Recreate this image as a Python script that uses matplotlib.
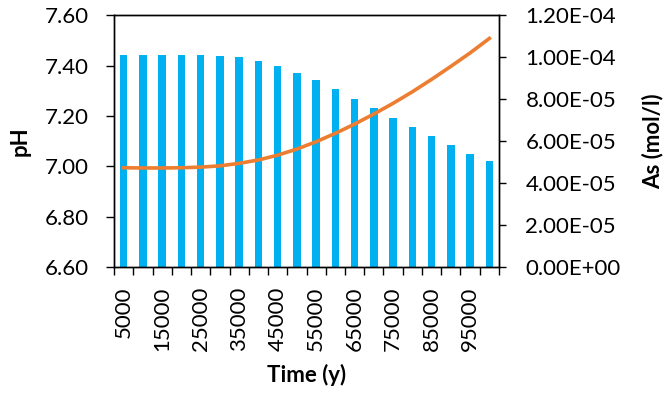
import numpy as np
import matplotlib.pyplot as plt
from matplotlib.ticker import FormatStrFormatter

plt.rcParams['font.family'] = ['Lato', 'DejaVu Sans']

# data
times = [5000 * (i + 1) for i in range(20)]
ph = [7.44, 7.44, 7.44, 7.44, 7.44, 7.438, 7.432, 7.419, 7.398, 7.371,
      7.341, 7.305, 7.268, 7.230, 7.191, 7.154, 7.119, 7.083, 7.050, 7.020]
arsenic = [4.73e-5, 4.72e-5, 4.72e-5, 4.73e-5, 4.76e-5, 4.82e-5, 4.94e-5, 5.10e-5,
           5.33e-5, 5.62e-5, 5.97e-5, 6.37e-5, 6.81e-5, 7.29e-5, 7.80e-5, 8.35e-5,
           8.94e-5, 9.56e-5, 1.02e-4, 1.089e-4]

x = np.arange(len(times))
fs = 16

fig = plt.figure(figsize=(6.64, 3.98), dpi=100)
ax = fig.add_axes([0.1717, 0.329, 0.5798, 0.633])
ax.bar(x, np.array(ph) - 6.6, bottom=6.6, width=0.38, color="#00B0F0")
ax.set_xlim(-0.5, len(x) - 0.5)
ax.set_ylim(6.6, 7.6)
ax.set_yticks(np.arange(6.6, 7.61, 0.2))
ax.yaxis.set_major_formatter(FormatStrFormatter("%.2f"))

# category labels every other bar, tick marks at category boundaries
ax.set_xticks(x[::2], [str(t) for t in times[::2]], rotation=90)
ax.tick_params(axis="x", which="major", length=0, pad=14)
ax.set_xticks(np.arange(-0.5, len(x), 1.0), minor=True)
ax.tick_params(axis="x", which="minor", length=6, width=1)
ax.tick_params(axis="y", length=6, width=1, pad=12)
ax.tick_params(labelsize=fs)

ax2 = ax.twinx()
ax2.plot(x, arsenic, color="#ED7D31", linewidth=2.6)
ax2.set_ylim(0, 1.2e-4)
ax2.set_yticks(np.arange(0, 1.21e-4, 2e-5))
ax2.set_yticklabels(["%.2E" % v for v in np.arange(0, 1.21e-4, 2e-5)])
ax2.tick_params(axis="y", length=5, width=1, pad=14, labelsize=fs)

for a in (ax, ax2):
    for s in a.spines.values():
        s.set_color("black")
        s.set_linewidth(1)

ax.set_ylabel("pH", fontsize=fs, fontweight="bold", va="center", ha="center")
ax.yaxis.set_label_coords(-0.245, 0.5)
ax2.set_ylabel("As (mol/l)", fontsize=fs, fontweight="bold", va="center", ha="center")
ax2.yaxis.set_label_coords(1.4, 0.5)
ax.set_xlabel("Time (y)", fontsize=fs, fontweight="bold", va="center", ha="center")
ax.xaxis.set_label_coords(0.5, -0.43)

fig.savefig("out.png")
